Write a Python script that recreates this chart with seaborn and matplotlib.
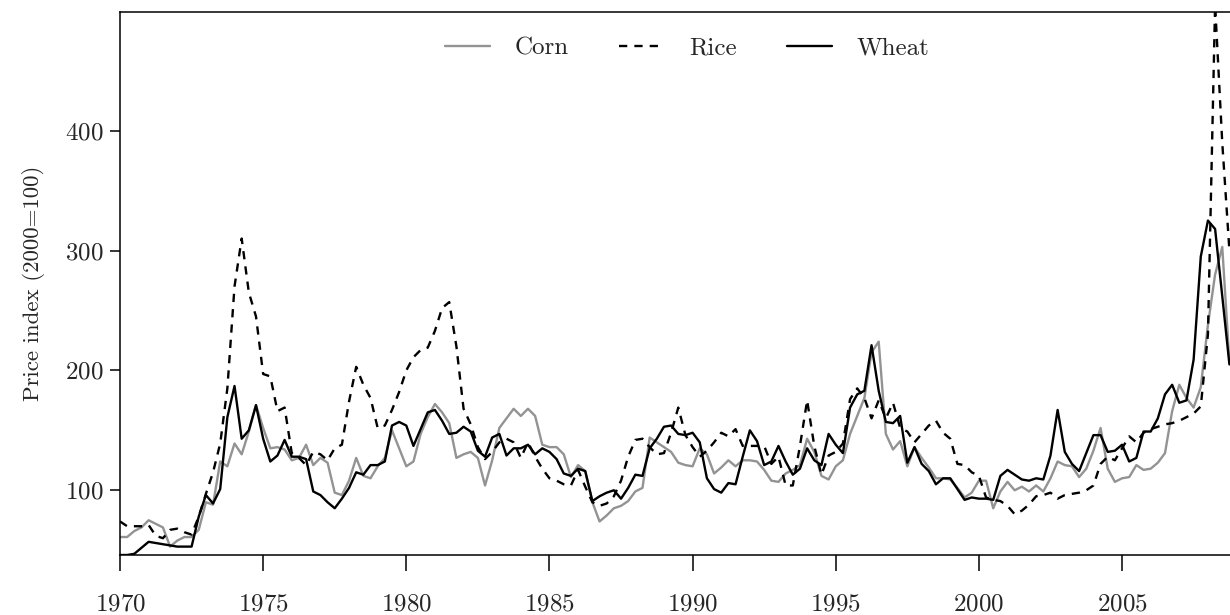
import numpy as np
import pandas as pd
import matplotlib
matplotlib.use("Agg")
import matplotlib.pyplot as plt
import seaborn as sns

# quarterly price indices (2000=100), 1970Q1 .. 2008Q4
quarters = np.arange(1970, 2009, 0.25)

corn = [
    61, 61, 66, 69, 75, 72, 69, 53, 58, 61, 61, 67, 90, 88, 124, 120,
    139, 130, 149, 171, 152, 135, 136, 134, 125, 127, 138, 121, 127, 123, 98, 96,
    108, 127, 112, 110, 120, 127, 150, 135, 120, 124, 147, 161, 172, 165, 156, 127,
    130, 132, 127, 104, 125, 152, 160, 168, 162, 168, 162, 138, 136, 136, 130, 111,
    121, 116, 90, 74, 79, 85, 87, 91, 99, 102, 144, 140, 136, 132, 123, 121,
    120, 135, 130, 114, 119, 125, 120, 125, 125, 124, 117, 108, 107, 114, 117, 121,
    143, 132, 112, 109, 120, 125, 147, 162, 177, 215, 224, 147, 134, 141, 120, 136,
    127, 119, 110, 110, 109, 102, 94, 98, 108, 108, 85, 99, 107, 100, 103, 99,
    104, 99, 110, 124, 121, 120, 111, 118, 133, 152, 118, 107, 110, 111, 121, 117,
    118, 123, 131, 166, 188, 177, 169, 186, 238, 280, 303, 207,
]

rice = [
    74, 70, 70, 70, 71, 62, 60, 67, 68, 65, 63, 78, 97, 115, 139, 185,
    270, 310, 265, 245, 197, 195, 166, 169, 131, 127, 121, 132, 130, 125, 135, 138,
    174, 203, 188, 177, 152, 154, 167, 182, 200, 211, 217, 219, 233, 252, 257, 220,
    168, 155, 136, 126, 132, 140, 143, 140, 127, 140, 128, 118, 110, 108, 105, 104,
    117, 103, 90, 87, 89, 95, 108, 128, 142, 143, 136, 130, 131, 148, 169, 146,
    136, 128, 133, 140, 148, 145, 151, 137, 137, 137, 137, 122, 128, 104, 104, 137,
    175, 137, 113, 129, 132, 139, 176, 185, 177, 160, 175, 160, 173, 152, 149, 140,
    147, 154, 158, 148, 143, 122, 121, 115, 112, 94, 92, 91, 87, 80, 83, 88,
    95, 96, 98, 93, 96, 97, 98, 100, 104, 122, 128, 125, 135, 145, 140, 148,
    151, 153, 155, 156, 158, 161, 164, 170, 230, 505, 390, 300,
]

wheat = [
    46, 46, 47, 52, 57, 56, 55, 54, 53, 53, 53, 78, 96, 89, 101, 161,
    187, 143, 150, 171, 143, 124, 129, 142, 128, 128, 126, 99, 96, 90, 85, 93,
    102, 115, 113, 121, 121, 124, 154, 157, 154, 137, 151, 165, 167, 158, 147, 148,
    153, 149, 133, 128, 144, 147, 129, 135, 135, 138, 130, 135, 132, 126, 114, 112,
    118, 116, 91, 95, 98, 100, 93, 102, 113, 112, 135, 143, 153, 154, 147, 146,
    148, 140, 110, 101, 98, 106, 105, 128, 150, 141, 121, 124, 137, 124, 113, 118,
    135, 125, 121, 147, 138, 131, 169, 180, 183, 221, 183, 157, 156, 162, 123, 136,
    122, 116, 105, 110, 110, 101, 92, 94, 93, 93, 92, 112, 117, 113, 109, 108,
    110, 109, 129, 167, 132, 122, 116, 131, 146, 146, 132, 133, 138, 124, 127, 149,
    149, 160, 180, 188, 173, 175, 209, 295, 325, 318, 262, 205,
]

crops = ["Corn", "Rice", "Wheat"]
x_ticks = [1970, 1975, 1980, 1985, 1990, 1995, 2000, 2005]
y_ticks = [100, 200, 300, 400]

df = pd.DataFrame({"quarter": np.tile(quarters, 3),
                   "index": corn + rice + wheat,
                   "crop": np.repeat(crops, len(quarters))})

sns.set_style("ticks")
plt.rcParams["font.family"] = ["cmr10", "DejaVu Serif"]
plt.rcParams["mathtext.fontset"] = "cm"
plt.rcParams["axes.formatter.use_mathtext"] = True

fig = plt.figure(figsize=(12.3, 6.15), dpi=100)
ax = fig.add_axes([120 / 1230, 60 / 615, 1112 / 1230, 543 / 615])

sns.lineplot(data=df, x="quarter", y="index", hue="crop", style="crop",
             hue_order=crops, style_order=crops,
             palette={"Corn": "#939393", "Rice": "black", "Wheat": "black"},
             dashes={"Corn": "", "Rice": (3.5, 3), "Wheat": ""},
             linewidth=1.7, ax=ax)

ax.set_xlim(1970, 1970 + 1112 / 28.63)
ax.set_ylim(46, 499)
ax.set_xticks(x_ticks)
ax.set_yticks(y_ticks)
ax.set_xlabel("")
ax.set_ylabel("Price index (2000=100)", fontsize=16.5, labelpad=14)
ax.tick_params(axis="x", length=11.5, width=1.1, labelsize=18, pad=16, color="black")
ax.tick_params(axis="y", length=7, width=1.1, labelsize=18, pad=5, color="black")
for side in ["left", "bottom", "top"]:
    ax.spines[side].set_visible(True)
    ax.spines[side].set_linewidth(1.1)
    ax.spines[side].set_color("black")
ax.spines["right"].set_visible(False)

sns.move_legend(ax, "upper center", bbox_to_anchor=(0.51, 0.995), ncol=3,
                frameon=False, title=None, fontsize=18, handlelength=1.8,
                columnspacing=2.0, handletextpad=1.0)

fig.savefig("out.png", dpi=100)
